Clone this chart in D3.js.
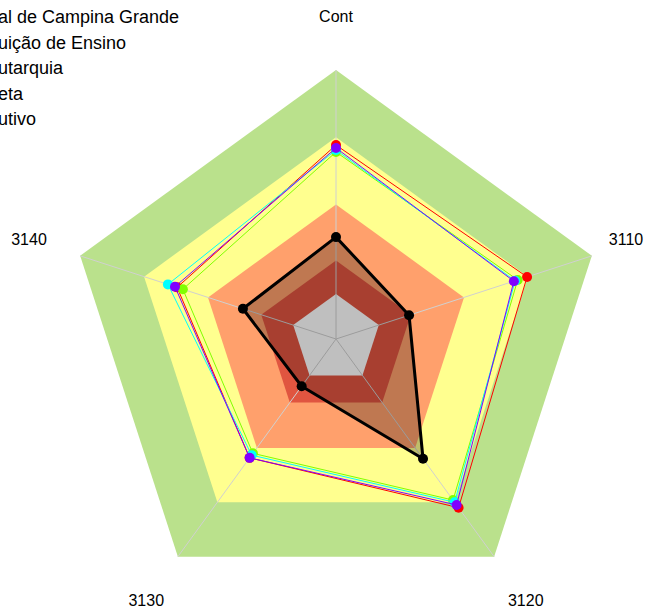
<!DOCTYPE html>
<html>
<head>
<meta charset="utf-8">
<script src="https://cdn.jsdelivr.net/npm/d3@7"></script>
<style>
  body { margin: 0; background: #fff; }
  svg { display: block; font-family: "Liberation Sans", Arial, sans-serif; }
</style>
</head>
<body>
<svg id="radar" width="664" height="612"></svg>
<script>
// axes of the radar, clockwise from the top
const axes = ["Cont", "3110", "3120", "3130", "3140"];

// legend (only the visible part of each label)
const legendLabels = ["al de Campina Grande", "uição de Ensino", "utarquia", "eta", "utivo"];

// series values (0-100 scale)
const serieRed    = [66.5, 69.6, 73.0, 45.5, 54.5];
const serieGreen  = [63.4, 65.2, 68.8, 43.0, 51.8];
const serieCyan   = [64.3, 64.0, 70.0, 44.0, 58.8];
const seriePurple = [65.2, 63.4, 71.5, 45.5, 55.5];
const serieBlack  = [25.4, 14.2, 46.0, 6.0, 23.6];

// background bands (upper limit of each band)
const bandLimits = [100, 70, 40, 15, 0];
const bandColors = ["#bae18c", "#ffff8f", "#ffa06c", "#e05540", "#ffffff"];

const series = [
  {values: serieRed,    color: "#ff0000", width: 1, fill: "none"},
  {values: serieGreen,  color: "#80ff00", width: 1, fill: "none"},
  {values: serieCyan,   color: "#00ffff", width: 1, fill: "none"},
  {values: seriePurple, color: "#8000ff", width: 1, fill: "none"},
  {values: serieBlack,  color: "#000000", width: 3, fill: "rgba(0,0,0,0.25)"}
];

const svg = d3.select("#radar");
const cx = 336, cy = 339, R = 269, hole = 45;

const r = d3.scaleLinear().domain([0, 100]).range([hole, R]);
const angle = d3.scalePoint().domain(axes).range([0, 2 * Math.PI * (axes.length - 1) / axes.length]);

const g = svg.append("g").attr("transform", `translate(${cx},${cy})`);

function pt(axis, v) {
  const a = angle(axis);
  return [r(v) * Math.sin(a), -r(v) * Math.cos(a)];
}

// bands
g.selectAll("polygon.band")
  .data(bandLimits)
  .join("polygon")
    .attr("class", "band")
    .attr("points", d => axes.map(a => pt(a, d).join(",")).join(" "))
    .attr("fill", (d, i) => bandColors[i]);

// axis lines
g.selectAll("line.axis")
  .data(axes)
  .join("line")
    .attr("class", "axis")
    .attr("x1", 0).attr("y1", 0)
    .attr("x2", d => pt(d, 100)[0])
    .attr("y2", d => pt(d, 100)[1])
    .attr("stroke", "#d0d0d0")
    .attr("stroke-width", 1);

// axis labels
const labelR = R * 1.2;
g.selectAll("text.lab")
  .data(axes)
  .join("text")
    .attr("class", "lab")
    .attr("x", d => labelR * Math.sin(angle(d)))
    .attr("y", d => -labelR * Math.cos(angle(d)))
    .attr("dx", d => d === "3110" ? -17 : 0)
    .attr("dy", "0.35em")
    .attr("text-anchor", "middle")
    .attr("font-size", "16px")
    .attr("fill", "#000")
    .text(d => d);

// series
series.forEach(s => {
  const pts = axes.map((a, i) => pt(a, s.values[i]));
  g.append("polygon")
    .attr("points", pts.map(p => p.join(",")).join(" "))
    .attr("fill", s.fill)
    .attr("stroke", s.color)
    .attr("stroke-width", s.width)
    .attr("stroke-linejoin", "round");
  g.append("g")
    .selectAll("circle")
    .data(pts)
    .join("circle")
      .attr("cx", d => d[0])
      .attr("cy", d => d[1])
      .attr("r", 5)
      .attr("fill", s.color);
});

// legend (cut off at the left edge)
svg.append("g")
  .selectAll("text")
  .data(legendLabels)
  .join("text")
    .attr("x", -2)
    .attr("y", (d, i) => 23 + i * 25.5)
    .attr("font-size", "18px")
    .attr("fill", "#000")
    .text(d => d);
</script>
</body>
</html>
